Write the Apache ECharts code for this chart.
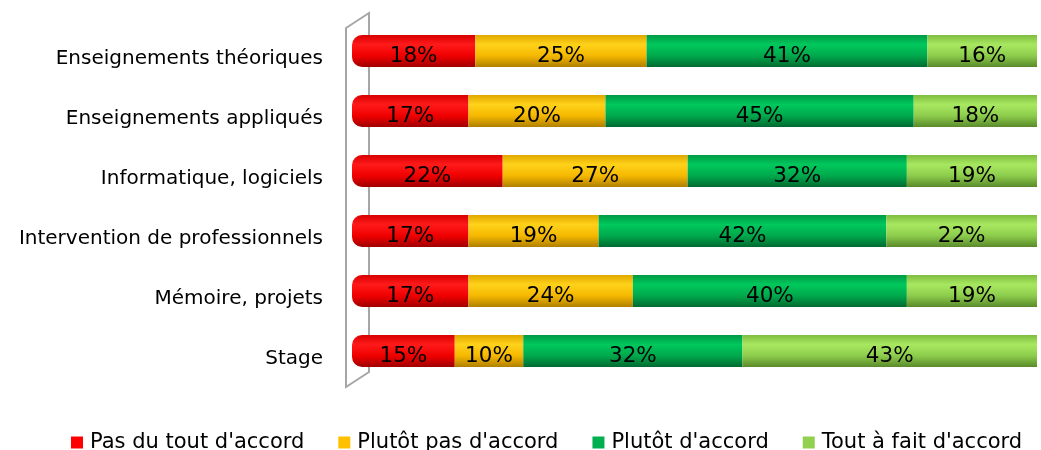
<!DOCTYPE html>
<html><head><meta charset="utf-8">
<script src="https://cdn.jsdelivr.net/npm/echarts@6/dist/echarts.min.js"></script>
<style>html,body{margin:0;padding:0;background:#fff}#c{width:1041px;height:450px}</style>
</head><body><div id="c"></div>
<script>
const categories = ["Enseignements théoriques","Enseignements appliqués","Informatique, logiciels","Intervention de professionnels","Mémoire, projets","Stage"];
const seriesNames = ["Pas du tout d'accord","Plutôt pas d'accord","Plutôt d'accord","Tout à fait d'accord"];
const pasDuTout = [18,17,22,17,17,15];
const plutotPas = [25,20,27,19,24,10];
const plutotAccord = [41,45,32,42,40,32];
const toutAFait = [16,18,19,22,19,43];
const colors = ["#FF0000","#FFC000","#00B050","#92D050"];
const shades = [
  ["#d80000","#ff1a1a","#f00000","#a00000"],
  ["#e0a800","#ffd21a","#f5b800","#b08000"],
  ["#009a45","#00c85c","#00a84c","#006a30"],
  ["#7fbc40","#a8e860","#8ccc4c","#5a8a2a"]
];
const data = [pasDuTout, plutotPas, plutotAccord, toutAFait];
const FONT = "'DejaVu Sans', sans-serif";
function grad(s){return new echarts.graphic.LinearGradient(0,0,0,1,[{offset:0,color:s[0]},{offset:0.3,color:s[1]},{offset:0.65,color:s[2]},{offset:1,color:s[3]}]);}
const chart = echarts.init(document.getElementById('c'));
chart.setOption({
  animation:false,
  color: colors,
  grid:{left:352,right:4,top:21,bottom:69,containLabel:false},
  xAxis:{type:'value',min:0,max:100,show:false},
  yAxis:{type:'category',data:categories,inverse:true,
    axisLine:{show:false},axisTick:{show:false},
    axisLabel:{margin:29,color:'#000',formatter:v=>'{a|'+v+'}',
      rich:{a:{fontSize:20,color:'#000',fontFamily:FONT,padding:[16,0,0,0]}}}},
  legend:{top:427,left:66,itemWidth:12,itemHeight:12,itemGap:34,icon:'rect',
    textStyle:{fontSize:21,color:'#000',fontFamily:FONT,padding:[2,0,0,2]},
    data:seriesNames.map((n,i)=>({name:n,itemStyle:{color:colors[i]}}))},
  graphic:[{type:'polygon',z:0,silent:true,
    shape:{points:[[346,28],[369,13],[369,372],[346,387]]},
    style:{fill:'none',stroke:'#a6a6a6',lineWidth:2}}],
  series: data.map((d,i)=>({
    name:seriesNames[i],type:'bar',stack:'t',barWidth:32,z:3,
    data:d,
    itemStyle:{color:grad(shades[i]),borderRadius: i===0?[10,0,0,10]:0},
    label:{show:true,position:'inside',offset:[0,5],formatter:'{c}%',fontSize:21.5,color:'#000',fontFamily:FONT}
  }))
});
</script></body></html>
